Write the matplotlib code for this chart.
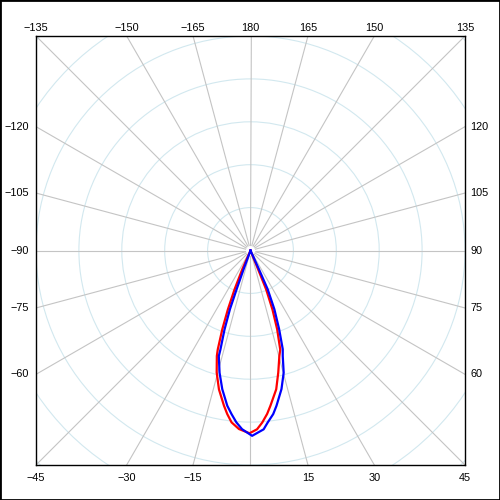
import numpy as np
import matplotlib
matplotlib.use('Agg')
import matplotlib.pyplot as plt
from matplotlib.patches import Circle, Rectangle

# Кривые силы света (угол от надира в градусах, значение в условных единицах; одно кольцо = 100)
red_angles = [-24.0, -23.6, -22.3, -21.0, -19.7, -18.3, -17.7, -15.5, -12.8, -9.7, -8.1, -6.3, -3.7,
              -0.3, 2.1, 3.9, 5.8, 7.3, 10.5, 12.8, 15.3, 16.7, 18.7, 20.4, 21.9, 22.0, 22.5]
red_values = [0, 48, 98, 147, 195, 243, 258, 295, 332, 367, 385, 403, 417,
              426, 417, 402, 383, 365, 329, 292, 255, 241, 194, 147, 98, 47, 0]

blue_angles = [-21.0, -20.2, -19.7, -19.3, -18.2, -16.9, -16.7, -14.2, -11.5, -8.5, -6.6, -4.7, -2.7,
               0.5, 4.2, 5.7, 7.9, 9.5, 12.6, 15.2, 17.0, 18.1, 20.0, 22.1, 23.9, 24.2, 24.5]
blue_values = [0, 47, 96, 145, 194, 241, 257, 294, 330, 366, 384, 402, 417,
               432, 418, 403, 385, 367, 331, 295, 257, 242, 195, 148, 99, 48, 0]

ring_radii = [100, 200, 300, 400, 500, 600, 700]
grid_angles = list(range(-165, 181, 15))
label_angles = [a for a in grid_angles if a != 0]


def to_xy(angles, values):
    t = np.radians(angles)
    v = np.asarray(values, dtype=float)
    return v * np.sin(t), -v * np.cos(t)


def main():
    lim = 500
    fig = plt.figure(figsize=(5, 5), dpi=100)
    ax = fig.add_axes([0.072, 0.07, 0.858, 0.858])
    ax.set_xlim(-lim, lim)
    ax.set_ylim(-lim, lim)
    ax.set_aspect('equal')
    ax.set_xticks([])
    ax.set_yticks([])
    for sp in ax.spines.values():
        sp.set_color('black')
        sp.set_linewidth(1)

    # Концентрические окружности
    for r in ring_radii:
        ax.add_patch(Circle((0, 0), r, fill=False, edgecolor='#d2e8ef', linewidth=0.8, zorder=1))

    # Радиальные линии через каждые 15 градусов
    for a in grid_angles:
        x0, y0 = to_xy([a], [12])
        x1, y1 = to_xy([a], [900])
        ax.plot([x0[0], x1[0]], [y0[0], y1[0]], color='#c4c4c4', linewidth=0.8, zorder=2)

    # Подписи углов по краям рамки
    for a in label_angles:
        s, c = np.sin(np.radians(a)), -np.cos(np.radians(a))
        k = lim / max(abs(s), abs(c))
        px, py = s * k, c * k
        txt = str(a).replace('-', '\u2212')
        if abs(c) >= abs(s) - 1e-9:
            if c > 0:
                off, ha, va = (0, 2.5), 'center', 'bottom'
            else:
                off, ha, va = (0, -6), 'center', 'top'
        else:
            if s < 0:
                off, ha, va = (-5, 0), 'right', 'center'
            else:
                off, ha, va = (4, 0), 'left', 'center'
        ax.annotate(txt, (px, py), xytext=off, textcoords='offset points', ha=ha, va=va,
                    fontsize=7.8, family='Liberation Sans', annotation_clip=False)

    rx, ry = to_xy(red_angles, red_values)
    bx, by = to_xy(blue_angles, blue_values)
    ax.plot(rx, ry, color='#ff0000', linewidth=1.6, zorder=3)
    ax.plot(bx, by, color='#0000ff', linewidth=1.6, zorder=4)

    fig.patches.append(Rectangle((0, 0), 1, 1, transform=fig.transFigure, fill=False,
                                 edgecolor='black', linewidth=2))
    fig.savefig('out.png', dpi=100)


if __name__ == '__main__':
    main()
